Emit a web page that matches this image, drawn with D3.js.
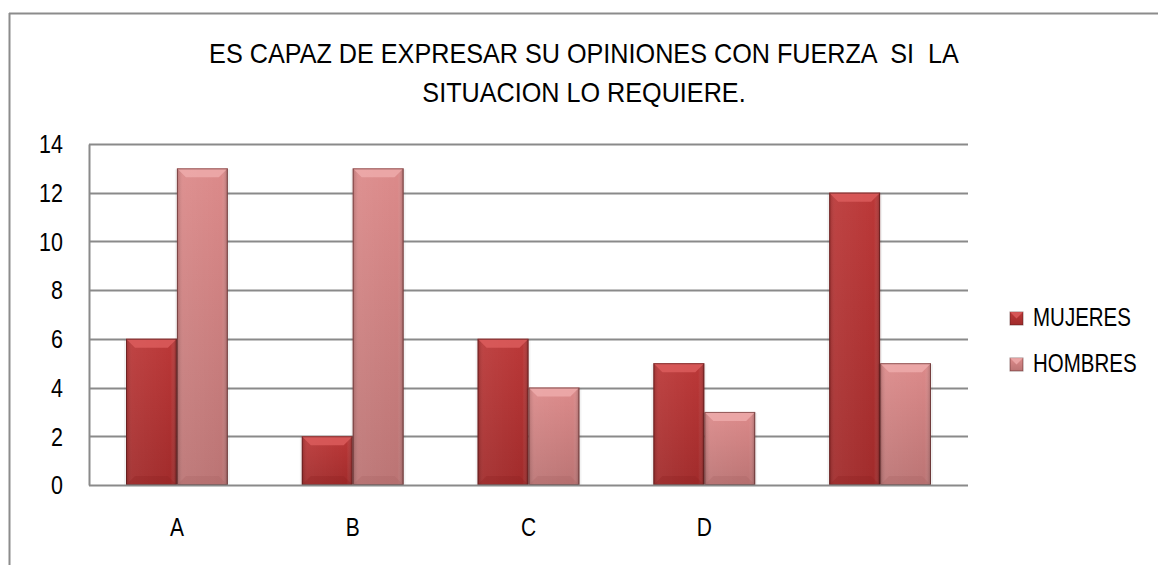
<!DOCTYPE html>
<html><head><meta charset="utf-8">
<script src="https://cdn.jsdelivr.net/npm/d3@7"></script>
<style>body{margin:0;background:#fff}</style>
</head><body>
<svg id="c" width="1158" height="565"></svg>
<script>
const categories = ["A","B","C","D",""];
const seriesNames = ["MUJERES","HOMBRES"];
const mujeres = [6,2,6,5,12];
const hombres = [13,13,4,3,5];
const yTicks = [0,2,4,6,8,10,12,14];
const titleLines = ["ES CAPAZ DE EXPRESAR SU OPINIONES CON FUERZA  SI  LA","SITUACION LO REQUIERE."];

const svg = d3.select("#c");
const font = "'Liberation Sans',Arial,sans-serif";
const defs = svg.append("defs");
const cols = {
  MUJERES:{mid:"#bb3838", dark:"#8e2222", light:"#dd5e5e", base:"#a12b2b"},
  HOMBRES:{mid:"#dc8a8a", dark:"#a86464", light:"#efacac", base:"#bb7474"}
};
seriesNames.forEach((s,i)=>{
  const c = cols[s];
  const gv = defs.append("linearGradient").attr("id","gv"+i).attr("x1",0).attr("y1",0).attr("x2",0).attr("y2",1);
  gv.append("stop").attr("offset","0%").attr("stop-color",c.mid);
  gv.append("stop").attr("offset","100%").attr("stop-color",c.base);
  const gh = defs.append("linearGradient").attr("id","gh"+i).attr("x1",0).attr("y1",0).attr("x2",1).attr("y2",0);
  gh.append("stop").attr("offset","0%").attr("stop-color","#000").attr("stop-opacity",0.18);
  gh.append("stop").attr("offset","12%").attr("stop-color","#fff").attr("stop-opacity",0.06);
  gh.append("stop").attr("offset","88%").attr("stop-color","#fff").attr("stop-opacity",0.0);
  gh.append("stop").attr("offset","100%").attr("stop-color","#000").attr("stop-opacity",0.25);
});

// outer frame (top and left visible)
svg.append("line").attr("x1",9).attr("x2",1158).attr("y1",13.5).attr("y2",13.5).attr("stroke","#8c8c8c").attr("stroke-width",2);
svg.append("line").attr("x1",9.5).attr("x2",9.5).attr("y1",13).attr("y2",565).attr("stroke","#8c8c8c").attr("stroke-width",2);

// title (narrow face)
const titleY = [63, 102];
svg.append("g").selectAll("text").data(titleLines).join("text")
  .attr("transform",(d,i)=>`translate(584,${titleY[i]}) scale(0.9,1)`)
  .attr("text-anchor","middle").style("white-space","pre")
  .attr("font-family",font).attr("font-size",28).attr("fill","#000").text(d=>d);

const L=89, R=968, T=144, B=485;
const y = d3.scaleLinear().domain([0,14]).range([B,T]);
const x0 = d3.scaleBand().domain(categories.map((c,i)=>i)).range([L,R]).padding(0);
const x1 = d3.scaleBand().domain(seriesNames).range([37, x0.bandwidth()-37]).padding(0);

// gridlines
svg.append("g").selectAll("line").data(yTicks.filter(t=>t>0)).join("line")
  .attr("x1",L).attr("x2",R).attr("y1",d=>Math.round(y(d))+0.5).attr("y2",d=>Math.round(y(d))+0.5)
  .attr("stroke","#8a8a8a").attr("stroke-width",2);

// y axis
const ySx = 0.86, yPad = 26;
const yAxis = d3.axisLeft(y).tickValues(yTicks).tickSize(0).tickPadding(yPad);
const ya = svg.append("g").attr("transform",`translate(${L},0)`).call(yAxis);
ya.select(".domain").attr("stroke","#8a8a8a").attr("stroke-width",2);
ya.selectAll("text").attr("font-family",font).attr("font-size",25).attr("fill","#000").attr("dy","0.35em")
  .attr("x",-yPad/ySx).attr("transform",`scale(${ySx},1)`);

// bars
const data = categories.map((c,i)=>({i, vals:[mujeres[i],hombres[i]]}));
const groups = svg.append("g").selectAll("g").data(data).join("g")
  .attr("transform",d=>`translate(${x0(d.i)},0)`);
groups.each(function(d){
  const g = d3.select(this);
  seriesNames.forEach((s,k)=>{
    const v = d.vals[k];
    const bx = x1(s), bw = x1.bandwidth(), by = y(v), bh = y(0)-y(v);
    const c = cols[s];
    g.append("rect").attr("x",bx-2).attr("y",by+1).attr("width",bw+4).attr("height",bh-1).attr("fill","#000").attr("opacity",0.05);
    g.append("rect").attr("x",bx).attr("y",by).attr("width",bw).attr("height",bh).attr("fill",`url(#gv${k})`);
    g.append("rect").attr("x",bx).attr("y",by).attr("width",bw).attr("height",bh).attr("fill",`url(#gh${k})`);
    const bev = 9;
    g.append("path").attr("d",`M${bx},${by} L${bx+bw},${by} L${bx+bw-bev},${by+bev} L${bx+bev},${by+bev} Z`).attr("fill",c.light).attr("opacity",0.8);
    g.append("path").attr("d",`M${bx},${by+bh} L${bx+bw},${by+bh} L${bx+bw-bev},${by+bh-bev} L${bx+bev},${by+bh-bev} Z`).attr("fill",c.dark).attr("opacity",0.3);
    g.append("rect").attr("x",bx+0.5).attr("y",by+0.5).attr("width",bw-1).attr("height",bh-1).attr("fill","none").attr("stroke","#4a1a1a").attr("stroke-opacity",0.55).attr("stroke-width",1);
  });
});

// x baseline
svg.append("line").attr("x1",L).attr("x2",R).attr("y1",B+0.5).attr("y2",B+0.5).attr("stroke","#8a8a8a").attr("stroke-width",2);

// x labels
const xAxis = d3.axisBottom(x0).tickFormat(i=>categories[i]).tickSize(0).tickPadding(33);
const xa = svg.append("g").attr("transform",`translate(0,${B})`).call(xAxis);
xa.select(".domain").remove();
xa.selectAll("text").attr("font-family",font).attr("font-size",25).attr("fill","#000").attr("transform","scale(0.84,1)");

// legend
const lg = svg.append("g").selectAll("g").data(seriesNames).join("g")
  .attr("transform",(d,i)=>`translate(1010,${312+i*46})`);
lg.append("rect").attr("width",13).attr("height",13).attr("fill",(d,i)=>`url(#gv${i})`).attr("stroke","#4a1a1a").attr("stroke-opacity",0.5);
lg.append("path").attr("d","M0,0 L13,0 L6.5,6.5 Z").attr("fill",d=>cols[d].light).attr("opacity",0.8);
lg.append("text").attr("transform","translate(23,14) scale(0.82,1)").attr("font-family",font).attr("font-size",25).attr("fill","#000").text(d=>d);
</script>
</body></html>
